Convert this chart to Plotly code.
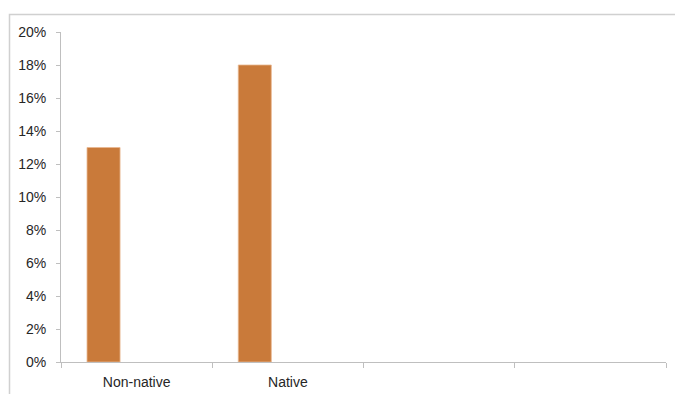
import plotly.graph_objects as go

# Share of respondents by speaker group
categories = ["Non-native", "Native", " ", "  "]
shares = [0.13, 0.18, None, None]
y_ticks = [0.0, 0.02, 0.04, 0.06, 0.08, 0.10, 0.12, 0.14, 0.16, 0.18, 0.20]

W, H = 675, 394
ML, MR, MT, MB = 61, 9, 32, 32
plot_w = W - ML - MR
plot_h = H - MT - MB

bar_color = "#C97A3A"
axis_color = "#BFBFBF"
frame_color = "#D0D0D0"
font = dict(family="Liberation Sans, Arial, sans-serif", size=14, color="#262626")

fig = go.Figure()
fig.add_trace(go.Bar(
    x=categories,
    y=shares,
    width=0.2185,
    offset=-0.328,
    marker=dict(color=bar_color, line=dict(color="#E8B890", width=0.8)),
    hoverinfo="skip",
))


def px_to_paper_x(px):
    return (px - ML) / plot_w


def px_to_paper_y(py):
    return (H - MB - py) / plot_h


# chart area frame
fig.add_shape(
    type="rect", xref="paper", yref="paper",
    x0=px_to_paper_x(9.5), x1=px_to_paper_x(W + 5),
    y0=px_to_paper_y(H + 5), y1=px_to_paper_y(14.5),
    line=dict(color=frame_color, width=1.5),
    fillcolor="rgba(0,0,0,0)", layer="below",
)

fig.update_layout(
    width=W, height=H,
    margin=dict(l=ML, r=MR, t=MT, b=MB, pad=0, autoexpand=False),
    paper_bgcolor="white", plot_bgcolor="white",
    showlegend=False,
    font=font,
    xaxis=dict(
        type="category",
        categoryorder="array", categoryarray=categories,
        range=[-0.5, len(categories) - 0.5],
        showline=True, linecolor=axis_color, linewidth=1,
        ticks="outside", tickson="boundaries", ticklen=5,
        tickcolor=axis_color, tickwidth=1,
        ticklabelstandoff=7,
        showgrid=False, zeroline=False,
        automargin=False,
        tickfont=font,
    ),
    yaxis=dict(
        range=[0, 0.2],
        tickvals=y_ticks,
        tickformat=".0%",
        showline=True, linecolor=axis_color, linewidth=1,
        ticks="outside", ticklen=4, tickcolor=axis_color, tickwidth=1,
        ticklabelstandoff=7,
        showgrid=False, zeroline=False,
        automargin=False,
        tickfont=font,
    ),
)

fig.write_html("out.html")
